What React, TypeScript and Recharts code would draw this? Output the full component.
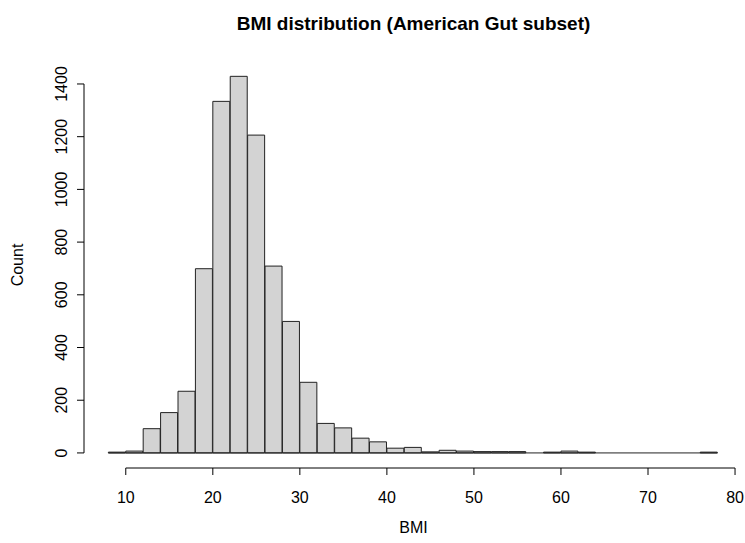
import { ComposedChart, Bar, XAxis, YAxis, ReferenceLine } from "recharts";

// ---- data ----
const binMids = [9, 11, 13, 15, 17, 19, 21, 23, 25, 27, 29, 31, 33, 35, 37, 39, 41, 43, 45, 47, 49, 51, 53, 55, 57, 59, 61, 63, 65, 67, 69, 71, 73, 75, 77];
const counts = [3, 7, 92, 153, 234, 699, 1334, 1429, 1206, 709, 499, 268, 112, 95, 56, 42, 18, 21, 4, 10, 7, 5, 5, 5, 0, 3, 7, 3, 0, 0, 0, 0, 0, 0, 3];
const xTicks = [10, 20, 30, 40, 50, 60, 70, 80];
const yTicks = [0, 200, 400, 600, 800, 1000, 1200, 1400];

const data = binMids.map((m, i) => ({ mid: m, count: counts[i] }));

const FONT = "'Liberation Sans', Arial, sans-serif";

const XTick = ({ x, y, payload }: any) => (
  <text x={x} y={y + 22} textAnchor="middle" dominantBaseline="central" fontSize={16} fill="#000" fontFamily={FONT}>
    {payload.value}
  </text>
);

const YTick = ({ x, y, payload }: any) => (
  <text
    x={x - 15}
    y={y}
    textAnchor="middle"
    dominantBaseline="central"
    fontSize={16}
    fill="#000"
    fontFamily={FONT}
    transform={`rotate(-90, ${x - 15}, ${y})`}
  >
    {payload.value}
  </text>
);

export default function App() {
  return (
    <div style={{ position: "absolute", left: 0, top: 0, width: 745, height: 543, background: "#fff", fontFamily: FONT }}>
      <ComposedChart
        width={745}
        height={543}
        data={data}
        margin={{ top: 61, right: 3, bottom: 35, left: 8 }}
        barCategoryGap={0}
        barGap={0}
      >
        <XAxis
          dataKey="mid"
          type="number"
          domain={[5.2, 80.8]}
          allowDataOverflow
          ticks={xTicks}
          interval={0}
          axisLine={false}
          tickLine={{ stroke: "#000" }}
          tickSize={7}
          tickMargin={0}
          height={40}
          tick={<XTick />}
        />
        <YAxis
          type="number"
          domain={[-57.2, 1487.2]}
          allowDataOverflow
          ticks={yTicks}
          interval={0}
          axisLine={false}
          tickLine={{ stroke: "#000" }}
          tickSize={7}
          tickMargin={0}
          width={76}
          tick={<YTick />}
        />
        <Bar dataKey="count" fill="#d3d3d3" stroke="#222" strokeWidth={1} isAnimationActive={false} />
        <ReferenceLine segment={[{ x: 8, y: 0 }, { x: 78, y: 0 }]} stroke="#222" ifOverflow="visible" />
        <ReferenceLine segment={[{ x: 10, y: -57.2 }, { x: 80, y: -57.2 }]} stroke="#000" ifOverflow="visible" />
        <ReferenceLine segment={[{ x: 5.2, y: 0 }, { x: 5.2, y: 1400 }]} stroke="#000" ifOverflow="visible" />
      </ComposedChart>
      <div style={{ position: "absolute", left: 0, width: 827, top: 12, textAlign: "center", fontSize: 19, fontWeight: "bold", lineHeight: "24px" }}>
        BMI distribution (American Gut subset)
      </div>
      <div style={{ position: "absolute", left: 0, width: 827, top: 517, textAlign: "center", fontSize: 16, lineHeight: "22px" }}>
        BMI
      </div>
      <div
        style={{
          position: "absolute",
          left: 18,
          top: 265,
          fontSize: 16,
          lineHeight: "22px",
          transform: "translate(-50%, -50%) rotate(-90deg)",
          whiteSpace: "nowrap",
        }}
      >
        Count
      </div>
    </div>
  );
}
